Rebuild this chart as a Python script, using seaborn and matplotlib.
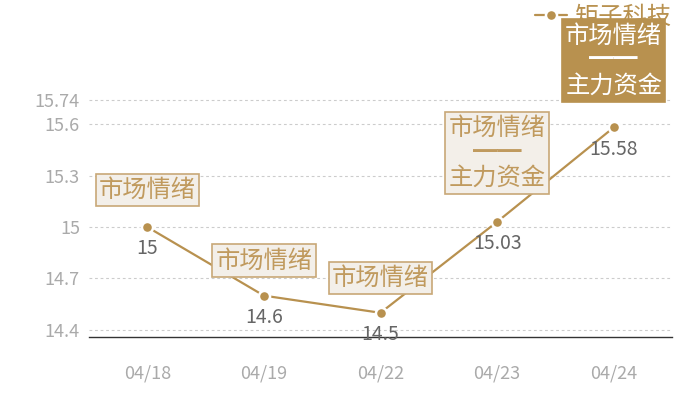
import matplotlib
matplotlib.use("Agg")
import matplotlib.pyplot as plt
import seaborn as sns
import pandas as pd

dates = ["04/18", "04/19", "04/22", "04/23", "04/24"]
prices = [15.0, 14.6, 14.5, 15.03, 15.58]
price_labels = ["15", "14.6", "14.5", "15.03", "15.58"]
notes = ["市场情绪", "市场情绪", "市场情绪", "市场情绪\n━━\n主力资金", "市场情绪\n━━\n主力资金"]
note_offsets = [37, 35, 35, 69, 67]
yticks = [14.4, 14.7, 15.0, 15.3, 15.6, 15.74]
ytick_labels = ["14.4", "14.7", "15", "15.3", "15.6", "15.74"]
series_name = "矩子科技"

sns.set_theme(style="white")
plt.rcParams["font.family"] = ["Noto Sans CJK SC", "DejaVu Sans"]

gold = "#b8914f"
df = pd.DataFrame({"date": dates, "price": prices, "name": series_name})

fig = plt.figure(figsize=(7, 4), dpi=100)
ax = fig.add_axes([89/700, 63/400, 583/700, 237/400])

sns.lineplot(data=df, x="date", y="price", ax=ax, color=gold, lw=1.6,
             marker="o", markersize=8, markeredgecolor="white",
             markeredgewidth=1.8, label=series_name, sort=False)

ax.set_xlim(-0.5, 4.5)
ax.set_ylim(14.359, 15.74)
ax.set_yticks(yticks)
ax.set_yticklabels(ytick_labels)
ax.set_xlabel("")
ax.set_ylabel("")
for y in yticks:
    ax.axhline(y, color="#cccccc", lw=0.8, ls=(0, (2.5, 2.5)), zorder=0, clip_on=False)
for s in ["top", "right", "left"]:
    ax.spines[s].set_visible(False)
ax.spines["bottom"].set_color("#333333")
ax.spines["bottom"].set_linewidth(1)
ax.tick_params(axis="y", length=0, pad=6.5, labelsize=13, labelcolor="#aaaaaa")
ax.tick_params(axis="x", length=0, pad=20, labelsize=13, labelcolor="#aaaaaa")

for i, (v, lab) in enumerate(zip(prices, price_labels)):
    ax.annotate(lab, xy=(i, v), xytext=(0, -22), textcoords="offset pixels",
                ha="center", va="center", fontsize=14, color="#666666",
                annotation_clip=False, zorder=6)

for i, (v, note, off) in enumerate(zip(prices, notes, note_offsets)):
    last = i == len(prices) - 1
    ax.annotate(note, xy=(i, v), xytext=(0, off), textcoords="offset pixels",
                ha="center", va="center", fontsize=17.5,
                color="white" if last else "#c09a5e",
                linespacing=0.95, annotation_clip=False, zorder=10,
                bbox=dict(boxstyle="square,pad=0.13",
                          fc=gold if last else "#f3efe9",
                          ec=gold if last else "#c8a877", lw=1.2))

leg = ax.legend(loc="center right", bbox_to_anchor=(683/700, 1 - 17/400),
                bbox_transform=fig.transFigure, frameon=False, fontsize=17.5,
                handlelength=1.3, handletextpad=0.3, borderpad=0)
for t in leg.get_texts():
    t.set_color(gold)
leg.set_zorder(5)

fig.savefig("out.png", dpi=100)
